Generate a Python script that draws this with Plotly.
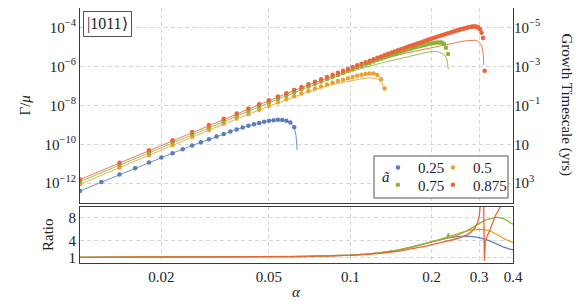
import plotly.graph_objects as go

# ---------------- data ----------------
# alpha grid of the numerical points (a~ = 0.5, 0.75, 0.875)
alpha_grid = [0.010, 0.014, 0.018, 0.022, 0.026, 0.030, 0.034, 0.038, 0.042, 0.046,
              0.050, 0.054, 0.058, 0.062, 0.066, 0.070, 0.074, 0.078, 0.082, 0.086,
              0.090, 0.094, 0.098, 0.102, 0.106, 0.110, 0.114, 0.118, 0.122, 0.126,
              0.130, 0.134, 0.138, 0.142, 0.146, 0.150, 0.154, 0.158, 0.162, 0.166,
              0.170, 0.174, 0.178, 0.182, 0.186, 0.190, 0.194, 0.198, 0.202, 0.206,
              0.210, 0.214, 0.218, 0.222, 0.226, 0.230, 0.234, 0.238, 0.242, 0.246,
              0.250, 0.254, 0.258, 0.262, 0.266, 0.270, 0.274, 0.278, 0.282, 0.286,
              0.290, 0.294, 0.298, 0.302, 0.306, 0.310, 0.314]
# alpha grid of the numerical points for a~ = 0.25
alpha_blue = [0.010, 0.012, 0.014, 0.016, 0.018, 0.020, 0.022, 0.024, 0.026, 0.028,
              0.030, 0.032, 0.034, 0.036, 0.038, 0.040, 0.042, 0.044, 0.046, 0.048,
              0.050, 0.052, 0.054, 0.056, 0.058, 0.060, 0.062]

# log10(Gamma/mu), numerical points
log_gamma_blue = [-12.40, -11.94, -11.557, -11.227, -10.938, -10.683, -10.456, -10.25, -10.063, -9.894,
                  -9.739, -9.598, -9.468, -9.349, -9.24, -9.141, -9.053, -8.973, -8.903, -8.845,
                  -8.797, -8.763, -8.746, -8.75, -8.787, -8.882, -9.122]
log_gamma_orange = [-12.05, -11.19, -10.545, -10.04, -9.615, -9.26, -8.95, -8.68, -8.44, -8.22,
                    -8.02, -7.845, -7.68, -7.53, -7.39, -7.26, -7.14, -7.03, -6.93, -6.84,
                    -6.755, -6.68, -6.61, -6.545, -6.485, -6.43, -6.39, -6.365, -6.37, -6.44,
                    -6.66, -7.14]
log_gamma_green = [-11.92, -11.055, -10.41, -9.90, -9.48, -9.12, -8.80, -8.525, -8.277, -8.05,
                   -7.846, -7.658, -7.484, -7.322, -7.171, -7.029, -6.897, -6.771, -6.653, -6.541,
                   -6.435, -6.333, -6.237, -6.146, -6.06, -5.977, -5.898, -5.821, -5.748, -5.677,
                   -5.609, -5.543, -5.48, -5.42, -5.362, -5.305, -5.252, -5.199, -5.149, -5.104,
                   -5.062, -5.022, -4.984, -4.948, -4.914, -4.882, -4.853, -4.827, -4.805, -4.788,
                   -4.777, -4.772, -4.778, -4.83, -5.04, -5.36]
log_gamma_red = [-11.81, -10.945, -10.30, -9.79, -9.37, -9.01, -8.69, -8.415, -8.167, -7.941,
                 -7.736, -7.548, -7.374, -7.212, -7.061, -6.919, -6.787, -6.661, -6.543, -6.431,
                 -6.325, -6.223, -6.127, -6.034, -5.946, -5.862, -5.781, -5.703, -5.628, -5.556,
                 -5.486, -5.419, -5.355, -5.292, -5.232, -5.173, -5.117, -5.062, -5.009, -4.957,
                 -4.907, -4.859, -4.812, -4.766, -4.721, -4.677, -4.635, -4.594, -4.554, -4.515,
                 -4.477, -4.440, -4.403, -4.368, -4.333, -4.300, -4.267, -4.234, -4.203, -4.173,
                 -4.143, -4.113, -4.085, -4.06, -4.035, -4.01, -3.99, -3.97, -3.955, -3.945,
                 -3.945, -3.96, -4.00, -4.09, -4.27, -4.54, -6.22]

# analytic curves (thin lines)
alpha_line_blue = [0.010, 0.014, 0.018, 0.022, 0.026, 0.030, 0.034, 0.038, 0.042, 0.046,
                   0.050, 0.054, 0.058, 0.060, 0.062, 0.063, 0.0634, 0.0636]
log_line_blue = [-12.40, -11.557, -10.938, -10.456, -10.063, -9.739, -9.468, -9.24, -9.053, -8.903,
                 -8.797, -8.746, -8.787, -8.882, -9.122, -9.55, -9.9, -10.3]
alpha_line_orange = [0.010, 0.030, 0.050, 0.070, 0.0843, 0.100, 0.110, 0.118, 0.125, 0.129, 0.1315, 0.133]
log_line_orange = [-12.05, -9.27, -8.04, -7.30, -6.95, -6.73, -6.63, -6.585, -6.62, -6.72, -6.88, -7.18]
alpha_line_green = [0.010, 0.030, 0.050, 0.070, 0.100, 0.129, 0.150, 0.170, 0.190, 0.2035,
                    0.212, 0.2216, 0.226, 0.228, 0.2295, 0.2307]
log_line_green = [-11.92, -9.13, -7.87, -7.06, -6.27, -5.84, -5.62, -5.44, -5.29, -5.23,
                  -5.25, -5.38, -5.52, -5.67, -5.85, -6.15]
alpha_line_red = [0.010, 0.030, 0.050, 0.070, 0.100, 0.129, 0.160, 0.200, 0.230, 0.248,
                  0.265, 0.280, 0.290, 0.298, 0.304, 0.308, 0.3105, 0.3115]
log_line_red = [-11.81, -9.02, -7.76, -6.95, -6.18, -5.66, -5.32, -5.02, -4.86, -4.77,
                -4.69, -4.65, -4.66, -4.72, -4.85, -5.05, -5.35, -5.93]

# ratio panel
alpha_ratio = [0.010, 0.020, 0.030, 0.040, 0.050, 0.060, 0.070, 0.080, 0.090, 0.100,
               0.115, 0.130, 0.150, 0.170, 0.190, 0.210]
ratio_common = [1.0, 1.02, 1.04, 1.07, 1.1, 1.14, 1.19, 1.25, 1.32, 1.4,
                1.58, 1.85, 2.3, 2.85, 3.5, 4.05]
alpha_ratio_blue_tail = [0.230, 0.250, 0.270, 0.290, 0.310, 0.330, 0.350, 0.370, 0.390, 0.400]
ratio_blue_tail = [4.45, 4.7, 4.78, 4.65, 4.35, 3.9, 3.3, 2.8, 2.45, 2.35]
alpha_ratio_orange_tail = [0.230, 0.250, 0.270, 0.290, 0.310, 0.330, 0.345, 0.360, 0.375, 0.390, 0.400]
ratio_orange_tail = [4.7, 5.2, 5.7, 5.95, 5.95, 5.65, 5.2, 4.7, 4.2, 3.85, 3.6]
alpha_ratio_green_tail = [0.222, 0.228, 0.2305, 0.233, 0.250, 0.270, 0.290, 0.315, 0.350, 0.370, 0.390, 0.400]
ratio_green_tail = [4.3, 4.45, 5.3, 4.5, 5.0, 5.7, 6.6, 7.6, 8.15, 7.85, 7.2, 6.9]
alpha_ratio_red = [0.010, 0.030, 0.050, 0.070, 0.100, 0.130, 0.150, 0.170, 0.190, 0.210,
                   0.230, 0.250, 0.270, 0.280, 0.290, 0.296, 0.300, 0.303, None,
                   0.3115, 0.3125, 0.3135, 0.316, 0.320, 0.330, 0.344, 0.360, 0.365]
ratio_red = [1.0, 1.03, 1.08, 1.16, 1.35, 1.7, 2.05, 2.5, 3.0, 3.5,
             3.9, 4.35, 5.0, 5.5, 6.3, 7.2, 8.3, 10.5, None,
             10.5, 5.0, 0.4, 3.8, 4.6, 6.1, 8.4, 10.0, 10.5]

spin_labels = ["0.25", "0.5", "0.75", "0.875"]
colors = ["#5a7dbf", "#eda031", "#8cb43c", "#ec6437"]

x_tickvals = [0.02, 0.05, 0.1, 0.2, 0.3, 0.4]
x_ticktext = ["0.02", "0.05", "0.1", "0.2", "0.3", "0.4"]
gamma_tickvals = [1e-4, 1e-6, 1e-8, 1e-10, 1e-12]
gamma_ticktext = ["10<sup>−4</sup>", "10<sup>−6</sup>", "10<sup>−8</sup>", "10<sup>−10</sup>", "10<sup>−12</sup>"]
time_tickvals = [1e-5, 1e-3, 1e-1, 1e1, 1e3]
time_ticktext = ["10<sup>−5</sup>", "10<sup>−3</sup>", "10<sup>−1</sup>", "10", "10<sup>3</sup>"]
ratio_tickvals = [1, 4, 8]
# growth timescale (yrs) = TIME_UNIT / (Gamma/mu)
TIME_UNIT = 1e-9

# ---------------- figure ----------------
FONT = "Liberation Serif"
FS = 15
TXT = "#222222"


def pw(vals):
    return [10.0 ** v for v in vals]


fig = go.Figure()

lines = [(alpha_line_blue, log_line_blue), (alpha_line_orange, log_line_orange),
         (alpha_line_green, log_line_green), (alpha_line_red, log_line_red)]
for (ax, ay), c in zip(lines, colors):
    fig.add_trace(go.Scatter(x=ax, y=pw(ay), mode="lines", line=dict(color=c, width=1),
                             opacity=0.85, showlegend=False, xaxis="x", yaxis="y",
                             hoverinfo="skip"))

dots = [(alpha_blue, log_gamma_blue), (alpha_grid[:len(log_gamma_orange)], log_gamma_orange),
        (alpha_grid[:len(log_gamma_green)], log_gamma_green), (alpha_grid[:len(log_gamma_red)], log_gamma_red)]
legend_widths = [10, 36, 10, 36]
for i, ((ax, ay), c, lab) in enumerate(zip(dots, colors, spin_labels)):
    fig.add_trace(go.Scatter(x=ax, y=pw(ay), mode="markers", name=lab,
                             marker=dict(color=c, size=4.5, line=dict(width=0)),
                             xaxis="x", yaxis="y", legendwidth=legend_widths[i],
                             legend="legend" if i < 2 else "legend2"))

# growth-timescale axis (same points, expressed as timescale; invisible, carries the right axis)
fig.add_trace(go.Scatter(x=alpha_grid, y=[TIME_UNIT / g for g in pw(log_gamma_red)],
                         mode="markers", marker=dict(opacity=0, size=1), showlegend=False,
                         hoverinfo="skip", xaxis="x", yaxis="y3"))

# ratio panel
ratio_sets = [
    (alpha_ratio + alpha_ratio_blue_tail, ratio_common + ratio_blue_tail),
    (alpha_ratio + alpha_ratio_orange_tail, ratio_common + ratio_orange_tail),
    (alpha_ratio + alpha_ratio_green_tail, ratio_common + ratio_green_tail),
    (alpha_ratio_red, ratio_red),
]
for (ax, ay), c in zip(ratio_sets, colors):
    fig.add_trace(go.Scatter(x=ax, y=ay, mode="lines", line=dict(color=c, width=1.3),
                             showlegend=False, xaxis="x2", yaxis="y2", connectgaps=False,
                             hoverinfo="skip"))

axis_common = dict(showline=True, mirror=True, linecolor="#3a3a3a", linewidth=1,
                   ticks="", gridcolor="#d6d6d6", griddash="4px,3px", gridwidth=1,
                   zeroline=False, tickfont=dict(family=FONT, size=FS, color=TXT))

x_range = [-2, -0.39794]
legend_common = dict(orientation="h", x=0.688, xanchor="left", yanchor="middle",
                     bgcolor="rgba(0,0,0,0)", borderwidth=0, itemwidth=30,
                     font=dict(family=FONT, size=FS, color=TXT))
# the page body adds an 8px offset, so the figure is 8px smaller and margins are shifted
fig.update_layout(
    width=579, height=300,
    margin=dict(l=72, r=74, t=0, b=45),
    paper_bgcolor="white", plot_bgcolor="white",
    font=dict(family=FONT, size=FS, color=TXT),
    xaxis=dict(axis_common, type="log", range=x_range, domain=[0, 1], anchor="y",
               tickvals=x_tickvals, showticklabels=False),
    xaxis2=dict(axis_common, type="log", range=x_range, domain=[0, 1], anchor="y2",
                tickvals=x_tickvals, ticktext=x_ticktext),
    yaxis=dict(axis_common, type="log", range=[-13, -3], domain=[0.2365, 1], anchor="x",
               tickvals=gamma_tickvals, ticktext=gamma_ticktext),
    yaxis2=dict(axis_common, range=[0, 10], domain=[0, 0.2208], anchor="x2",
                tickvals=ratio_tickvals),
    yaxis3=dict(type="log", range=[4, -6], overlaying="y", side="right", anchor="x",
                tickvals=time_tickvals, ticktext=time_ticktext, showgrid=False,
                showline=False, zeroline=False, ticks="",
                tickfont=dict(family=FONT, size=FS, color=TXT)),
    legend=dict(legend_common, y=0.3737),
    legend2=dict(legend_common, y=0.306),
    showlegend=True,
)

fig.add_shape(type="rect", xref="paper", yref="paper", x0=0.679, x1=0.9885, y0=0.2549, y1=0.4196,
              line=dict(color="#555555", width=1), fillcolor="white", layer="above")

ann = dict(showarrow=False, xref="paper", yref="paper", xanchor="center", yanchor="middle",
           font=dict(family=FONT, size=FS, color=TXT))
fig.add_annotation(ann, text="|1011⟩", x=0.0069, y=0.988, xanchor="left", yanchor="top",
                   font=dict(family=FONT, size=16, color=TXT),
                   bordercolor="#555555", borderwidth=1, borderpad=3, bgcolor="white")
fig.add_annotation(ann, text="Γ/<i>μ</i>", x=-0.127, y=0.6176, textangle=-90)
fig.add_annotation(ann, text="Ratio", x=-0.0739, y=0.1098, textangle=-90)
fig.add_annotation(ann, text="Growth Timescale (yrs)", x=1.1224, y=0.6176, textangle=90)
fig.add_annotation(ann, text="<i>α</i>", x=0.5, y=-0.1137)
fig.add_annotation(ann, text="<i>ã</i>", x=0.7067, y=0.337)

fig.write_html("out.html")
